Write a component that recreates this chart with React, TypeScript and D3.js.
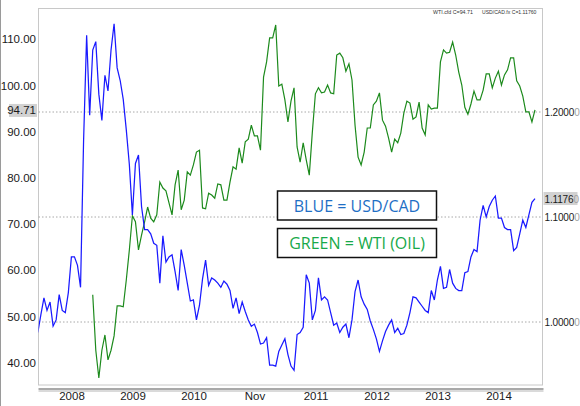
import * as d3 from 'd3';

// time axis: one unit per year label, samples every 0.05
const yearLabels = ['2008', '2009', '2010', 'Nov', '2011', '2012', '2013', '2014'];
const step = 0.05;
const blueStart = -0.56;
const greenStart = 0.34;

// USD/CAD (right axis)
const usdcad = [
    0.990, 1.007, 1.023, 1.011, 1.019, 0.996, 1.002, 1.026, 1.011, 1.009,
    1.028, 1.062, 1.062, 1.054, 1.033, 1.173, 1.273, 1.197, 1.259, 1.267,
    1.217, 1.192, 1.235, 1.220, 1.259, 1.284, 1.242, 1.230, 1.212, 1.183,
    1.150, 1.102, 1.151, 1.159, 1.110, 1.088, 1.088, 1.084, 1.075, 1.073,
    1.037, 1.082, 1.057, 1.062, 1.064, 1.048, 1.030, 1.069, 1.054, 1.037,
    1.020, 1.021, 1.002, 1.016, 1.041, 1.059, 1.035, 1.042, 1.040, 1.037,
    1.033, 1.039, 1.036, 1.030, 1.013, 1.023, 1.008, 1.019, 1.010, 1.002,
    0.996, 0.998, 0.990, 0.979, 0.980, 0.985, 0.959, 0.959, 0.958, 0.972,
    0.978, 0.984, 0.969, 0.958, 0.954, 0.988, 0.990, 0.995, 1.045, 1.037,
    1.002, 1.011, 1.042, 1.021, 1.024, 1.021, 1.009, 0.997, 0.999, 0.990,
    0.995, 0.998, 0.985, 1.002, 1.029, 1.040, 1.024, 1.017, 1.012, 1.001,
    0.993, 0.984, 0.972, 0.982, 0.991, 0.997, 1.002, 0.990, 0.994, 0.988,
    0.989, 0.997, 1.009, 1.024, 1.023, 1.019, 1.015, 1.011, 1.009, 1.030,
    1.021, 1.040, 1.053, 1.032, 1.033, 1.050, 1.037, 1.032, 1.030, 1.030,
    1.047, 1.048, 1.062, 1.069, 1.067, 1.097, 1.111, 1.100, 1.110, 1.116,
    1.120, 1.099, 1.099, 1.090, 1.088, 1.088, 1.068, 1.071, 1.084, 1.097,
    1.090, 1.102, 1.114, 1.1176,
];

// WTI (left axis)
const wti = [
    54.7, 42.7, 36.7, 42.7, 46.0, 40.6, 42.7, 45.8, 52.3, 52.3,
    52.1, 57.9, 64.4, 71.8, 70.5, 64.4, 67.6, 70.5, 73.7, 71.3,
    70.5, 72.0, 79.1, 77.8, 77.2, 74.6, 72.0, 78.5, 81.7, 73.1,
    75.2, 81.3, 80.6, 82.8, 85.6, 86.0, 73.5, 73.3, 76.7, 76.3,
    75.6, 78.7, 78.5, 75.2, 75.2, 79.1, 82.4, 81.9, 86.5, 83.2,
    87.8, 88.4, 91.4, 89.1, 89.1, 86.0, 101.8, 105.1, 110.3, 110.3,
    113.1, 99.9, 100.3, 96.9, 92.1, 96.6, 99.5, 86.7, 83.4, 87.6,
    83.9, 80.6, 89.9, 98.2, 99.5, 98.4, 98.6, 100.1, 98.4, 98.2,
    106.6, 107.0, 106.0, 103.1, 104.7, 101.2, 91.4, 84.5, 82.8, 85.6,
    90.8, 90.8, 95.8, 96.6, 98.4, 92.5, 91.2, 88.6, 85.6, 88.4,
    87.6, 89.7, 94.0, 96.6, 96.2, 92.7, 93.2, 96.4, 90.8, 89.3,
    95.8, 94.9, 95.1, 95.1, 105.1, 107.7, 107.0, 107.2, 109.4, 106.6,
    102.9, 100.1, 95.3, 93.8, 96.0, 98.8, 96.9, 96.9, 99.0, 102.5,
    102.5, 99.5, 101.6, 103.1, 100.1, 102.3, 103.4, 106.0, 106.0, 101.0,
    99.9, 97.7, 94.3, 94.3, 92.1, 94.71,
];

const leftTicks = [40, 50, 60, 70, 80, 90, 100, 110];
const rightTicks = [1.0, 1.1, 1.2];
const wtiLast = 94.71;
const usdcadLast = 1.1176;

const W = 580;
const H = 406;
const plot = { left: 38.5, right: 542.5, top: 8.5, bottom: 385 };
const font = '"Liberation Sans", Arial, sans-serif';
const boxFont = '"Open Sans", "Noto Sans", sans-serif';

export default function App() {
    const x = d3.scaleLinear().domain([0, 7]).range([72, 499]);
    const yL = d3.scaleLinear().domain([40, 110]).range([362.7, 39.3]);
    const yR = d3.scaleLinear().domain([1.0, 1.2]).range([322, 112]);

    const blueLine = d3.line<number>()
        .x((_, i) => x(blueStart + i * step))
        .y(d => yR(d));
    const greenLine = d3.line<number>()
        .x((_, i) => x(greenStart + i * step))
        .y(d => yL(d));

    const wtiHeader = `WTI.cfd C=${wtiLast}`;
    const fxHeader = `USD/CAD.fx C=${usdcadLast.toFixed(5)}`;

    return (
        <div style={{ position: 'fixed', left: 0, top: 0 }}>
            <svg width={W} height={H} style={{ display: 'block', background: '#fff' }}>
                <defs>
                    <clipPath id="plotclip">
                        <rect x={plot.left} y={plot.top} width={plot.right - plot.left} height={plot.bottom - plot.top} />
                    </clipPath>
                </defs>

                <line x1={0.5} x2={0.5} y1={0} y2={H} stroke="#9a9a9a" />

                {/* frame */}
                <rect x={plot.left} y={plot.top} width={plot.right - plot.left} height={plot.bottom - plot.top}
                    fill="#fff" stroke="#c8c8c8" />

                {/* grid */}
                {rightTicks.map(t => (
                    <line key={t} x1={plot.left} x2={plot.right} y1={yR(t)} y2={yR(t)}
                        stroke="#a8a8a8" strokeDasharray="1.5,2" />
                ))}

                {/* x axis bar */}
                <line x1={plot.left} x2={plot.right + 1} y1={389} y2={389} stroke="#8c8c8c" strokeWidth={1.5} />
                <line x1={plot.left} x2={plot.right + 1} y1={391} y2={391} stroke="#b5b5b5" strokeWidth={1} />

                <g clipPath="url(#plotclip)">
                    <path d={greenLine(wti) ?? ''} fill="none" stroke="#1c8a1c" strokeWidth={1.2} />
                    <path d={blueLine(usdcad) ?? ''} fill="none" stroke="#1a1aff" strokeWidth={1.25} />
                </g>

                {/* x labels */}
                {yearLabels.map((l, i) => (
                    <text key={l} x={x(i)} y={400} textAnchor="middle" fontFamily={font} fontSize={11.5} fill="#1a1a1a">
                        {l}
                    </text>
                ))}

                {/* left axis */}
                {leftTicks.map(t => (
                    <text key={t} x={36} y={yL(t) + 4} textAnchor="end" fontFamily={font} fontSize={11.5} fill="#1a1a1a">
                        {t.toFixed(2)}
                    </text>
                ))}
                <rect x={9} y={yL(wtiLast) - 6} width={28} height={13} fill="#d2d2d2" />
                <text x={36} y={yL(wtiLast) + 4.5} textAnchor="end" fontFamily={font} fontSize={11.5} fill="#1a1a1a">
                    {wtiLast.toFixed(2)}
                </text>

                {/* right axis: last digit fades at the edge */}
                {rightTicks.map(t => (
                    <text key={t} x={544.5} y={yR(t) + 4} fontFamily={font} fontSize={10} letterSpacing={-0.15} fill="#1a1a1a">
                        {t.toFixed(4)}<tspan fill="#a0a0a0">0</tspan>
                    </text>
                ))}
                <rect x={543.5} y={yR(usdcadLast) - 6.5} width={34} height={13} fill="#d2d2d2" />
                <text x={544.5} y={yR(usdcadLast) + 4} fontFamily={font} fontSize={10} letterSpacing={-0.15} fill="#1a1a1a">
                    {usdcadLast.toFixed(4)}<tspan fill="#a0a0a0">0</tspan>
                </text>

                {/* header */}
                <text x={433} y={14} fontFamily={font} fontSize={5.3} fill="#333">{wtiHeader}</text>
                <text x={482} y={14} fontFamily={font} fontSize={5.1} fill="#333">{fxHeader}</text>

                {/* legend boxes */}
                <rect x={277.5} y={191} width={159} height={29} fill="#fff" stroke="#111" strokeWidth={1.5} />
                <text x={357} y={211.5} textAnchor="middle" fontFamily={boxFont} fontSize={16} fill="#1f6fc5">
                    BLUE = USD/CAD
                </text>
                <rect x={277.5} y={228.5} width={159} height={29} fill="#fff" stroke="#111" strokeWidth={1.5} />
                <text x={357} y={249} textAnchor="middle" fontFamily={boxFont} fontSize={16} fill="#17a94a">
                    GREEN = WTI (OIL)
                </text>
            </svg>
        </div>
    );
}
